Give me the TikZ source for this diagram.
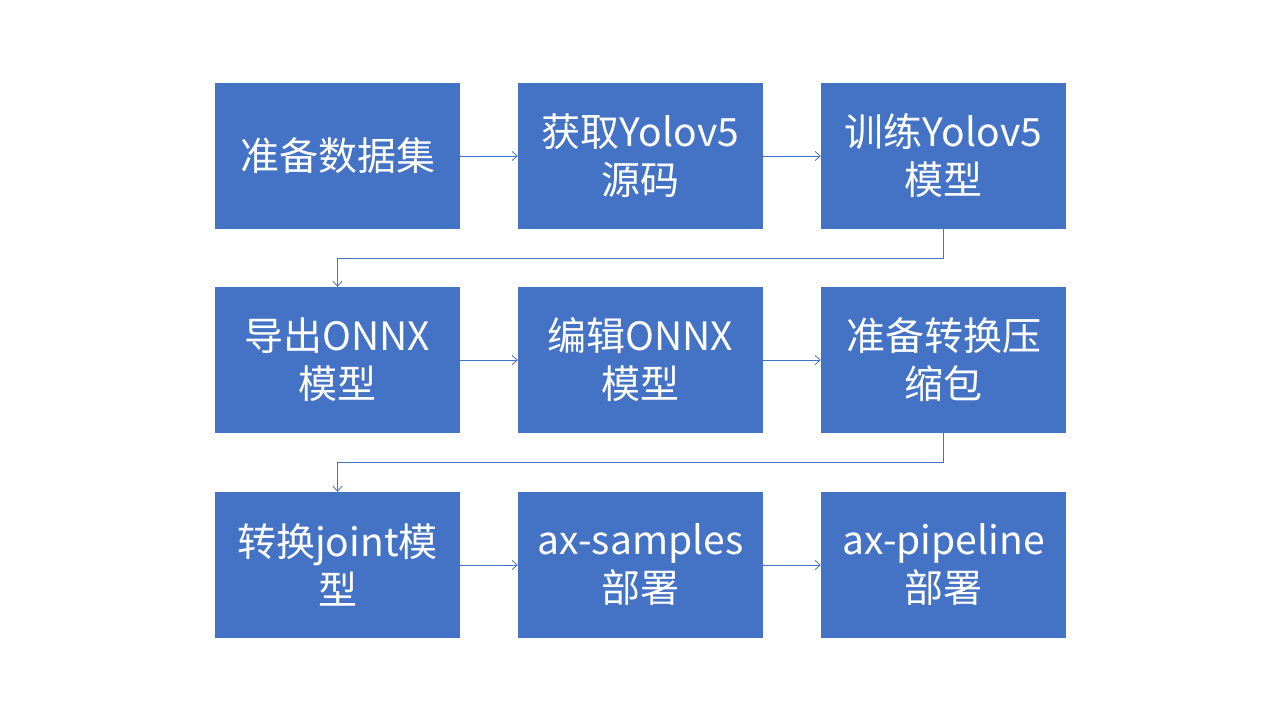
\documentclass[tikz,border=0pt]{standalone}
\usepackage{fontspec}
\setmainfont{Noto Sans CJK SC}
\usetikzlibrary{arrows.meta}
\definecolor{boxblue}{HTML}{4472C4}

\begin{document}
\begin{tikzpicture}
  [x=1pt,y=-1pt,
   every node/.style={rectangle,fill=boxblue,text=white,minimum width=245pt,minimum height=146pt,
     align=center,inner sep=0pt,font=\fontsize{39}{48}\selectfont},
   flow/.style={draw=boxblue,line width=0.8pt,-{Straight Barb[length=5pt,width=9pt]}}]
  \useasboundingbox (0,0) rectangle (1280,720);
  \node (n1) at (337.5,156) {准备数据集};
  \node (n2) at (640.5,156) {获取Yolov5\\源码};
  \node (n3) at (943.5,156) {训练Yolov5\\模型};
  \node (n4) at (337.5,360) {导出ONNX\\模型};
  \node (n5) at (640.5,360) {编辑ONNX\\模型};
  \node (n6) at (943.5,360) {准备转换压\\缩包};
  \node (n7) at (337.5,565) {转换joint模\\型};
  \node (n8) at (640.5,565) {ax-samples\\部署};
  \node (n9) at (943.5,565) {ax-pipeline\\部署};

  \foreach \from/\to in {n1/n2, n2/n3, n4/n5, n5/n6, n7/n8, n8/n9}
    \draw [flow] (\from) -- (\to);

  \draw [flow] (n3.south) -- ++(0,29) -| (n4.north);
  \draw [flow] (n6.south) -- ++(0,29) -| (n7.north);
\end{tikzpicture}
\end{document}
